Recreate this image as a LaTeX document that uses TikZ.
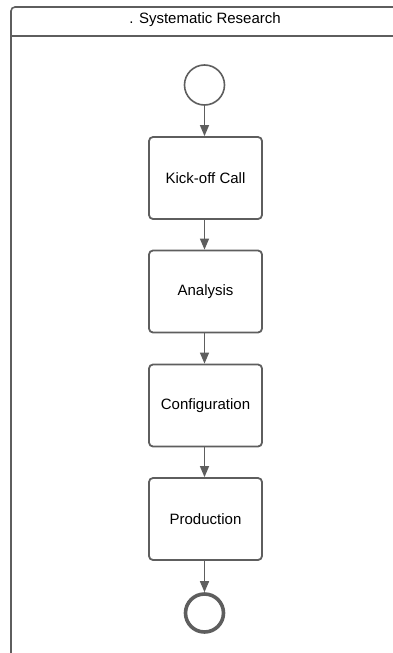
\documentclass[tikz,border=0pt]{standalone}
\usepackage{fontspec}
\setmainfont{Liberation Sans}
\usetikzlibrary{arrows.meta}
\definecolor{lc}{HTML}{5E5E5E}
\tikzset{
  stepbox/.style={draw=lc, line width=1.8pt, rounded corners=4pt, minimum width=113pt, minimum height=82pt, inner sep=0pt, font=\fontsize{15}{17}\selectfont},
  startc/.style={circle, draw=lc, line width=1.6pt, minimum size=40pt, inner sep=0pt},
  endc/.style={circle, draw=lc, line width=3.6pt, minimum size=38pt, inner sep=0pt},
  flow/.style={draw=lc, line width=1.4pt, -{Triangle[length=11pt,width=9pt]}}
}
\begin{document}
\begin{tikzpicture}[x=1pt,y=-1pt]
\useasboundingbox (0,0) rectangle (392,653);
\fill[white] (0,0) rectangle (392,653);
\draw[lc, line width=1.6pt, rounded corners=4pt] (400,7) -- (11,7) -- (11,700);
\draw[lc, line width=1.6pt] (11,36) -- (400,36);
\node[font=\fontsize{15}{17}\selectfont, text=black] (title) at (205,20) {. Systematic Research};
\node[startc] (s) at (204.5,85) {};
\node[stepbox] (b1) at (205.5,178) {Kick-off Call};
\node[stepbox] (b2) at (205.5,291.5) {Analysis};
\node[stepbox] (b3) at (205.5,405.5) {Configuration};
\node[stepbox] (b4) at (205.5,519) {Production};
\node[endc] (e) at (204.5,613) {};
\draw[flow] (s) -- (s |- b1.north);
\draw[flow] (b1.south -| s) -- (b2.north -| s);
\draw[flow] (b2.south -| s) -- (b3.north -| s);
\draw[flow] (b3.south -| s) -- (b4.north -| s);
\draw[flow] (b4.south -| e) -- (e);
\end{tikzpicture}
\end{document}
